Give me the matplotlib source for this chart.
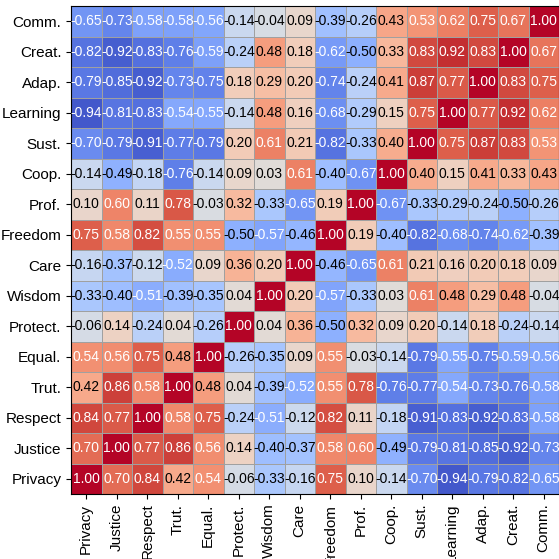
import numpy as np
import matplotlib.pyplot as plt

plt.rcParams['font.family'] = ['Liberation Sans', 'DejaVu Sans']

# labels, bottom row / left column first
labels = ['Privacy', 'Justice', 'Respect', 'Trut.', 'Equal.', 'Protect.', 'Wisdom',
          'Care', 'Freedom', 'Prof.', 'Coop.', 'Sust.', 'Learning', 'Adap.', 'Creat.', 'Comm.']

privacy = [1.00, 0.70, 0.84, 0.42, 0.54, -0.06, -0.33, -0.16, 0.75, 0.10, -0.14, -0.70, -0.94, -0.79, -0.82, -0.65]
justice = [0.70, 1.00, 0.77, 0.86, 0.56, 0.14, -0.40, -0.37, 0.58, 0.60, -0.49, -0.79, -0.81, -0.85, -0.92, -0.73]
respect = [0.84, 0.77, 1.00, 0.58, 0.75, -0.24, -0.51, -0.12, 0.82, 0.11, -0.18, -0.91, -0.83, -0.92, -0.83, -0.58]
trut = [0.42, 0.86, 0.58, 1.00, 0.48, 0.04, -0.39, -0.52, 0.55, 0.78, -0.76, -0.77, -0.54, -0.73, -0.76, -0.58]
equal = [0.54, 0.56, 0.75, 0.48, 1.00, -0.26, -0.35, 0.09, 0.55, -0.03, -0.14, -0.79, -0.55, -0.75, -0.59, -0.56]
protect = [-0.06, 0.14, -0.24, 0.04, -0.26, 1.00, 0.04, 0.36, -0.50, 0.32, 0.09, 0.20, -0.14, 0.18, -0.24, -0.14]
wisdom = [-0.33, -0.40, -0.51, -0.39, -0.35, 0.04, 1.00, 0.20, -0.57, -0.33, 0.03, 0.61, 0.48, 0.29, 0.48, -0.04]
care = [-0.16, -0.37, -0.12, -0.52, 0.09, 0.36, 0.20, 1.00, -0.46, -0.65, 0.61, 0.21, 0.16, 0.20, 0.18, 0.09]
freedom = [0.75, 0.58, 0.82, 0.55, 0.55, -0.50, -0.57, -0.46, 1.00, 0.19, -0.40, -0.82, -0.68, -0.74, -0.62, -0.39]
prof = [0.10, 0.60, 0.11, 0.78, -0.03, 0.32, -0.33, -0.65, 0.19, 1.00, -0.67, -0.33, -0.29, -0.24, -0.50, -0.26]
coop = [-0.14, -0.49, -0.18, -0.76, -0.14, 0.09, 0.03, 0.61, -0.40, -0.67, 1.00, 0.40, 0.15, 0.41, 0.33, 0.43]
sust = [-0.70, -0.79, -0.91, -0.77, -0.79, 0.20, 0.61, 0.21, -0.82, -0.33, 0.40, 1.00, 0.75, 0.87, 0.83, 0.53]
learning = [-0.94, -0.81, -0.83, -0.54, -0.55, -0.14, 0.48, 0.16, -0.68, -0.29, 0.15, 0.75, 1.00, 0.77, 0.92, 0.62]
adap = [-0.79, -0.85, -0.92, -0.73, -0.75, 0.18, 0.29, 0.20, -0.74, -0.24, 0.41, 0.87, 0.77, 1.00, 0.83, 0.75]
creat = [-0.82, -0.92, -0.83, -0.76, -0.59, -0.24, 0.48, 0.18, -0.62, -0.50, 0.33, 0.83, 0.92, 0.83, 1.00, 0.67]
comm = [-0.65, -0.73, -0.58, -0.58, -0.56, -0.14, -0.04, 0.09, -0.39, -0.26, 0.43, 0.53, 0.62, 0.75, 0.67, 1.00]

corr = np.array([privacy, justice, respect, trut, equal, protect, wisdom, care,
                 freedom, prof, coop, sust, learning, adap, creat, comm])
n = len(labels)

fig = plt.figure(figsize=(5.59, 5.59), dpi=100)
ax = fig.add_axes([71 / 559, 65 / 559, 488 / 559, 488 / 559])
ax.pcolormesh(corr, cmap='coolwarm', vmin=-1, vmax=1, edgecolors='#a0a0a0', linewidth=0.5)

for i in range(n):
    for j in range(n):
        v = corr[i, j]
        ax.text(j + 0.5, i + 0.5, f'{v:.2f}', ha='center', va='center', fontsize=10,
                color='white' if abs(v) > 0.5 else 'black')

ax.set_xticks(np.arange(n) + 0.5)
ax.set_yticks(np.arange(n) + 0.5)
ax.set_xticklabels(labels, rotation=90, fontsize=11)
ax.set_yticklabels(labels, fontsize=11)
ax.set_xlim(0, n)
ax.set_ylim(0, n)

fig.savefig('out.png', dpi=100)
